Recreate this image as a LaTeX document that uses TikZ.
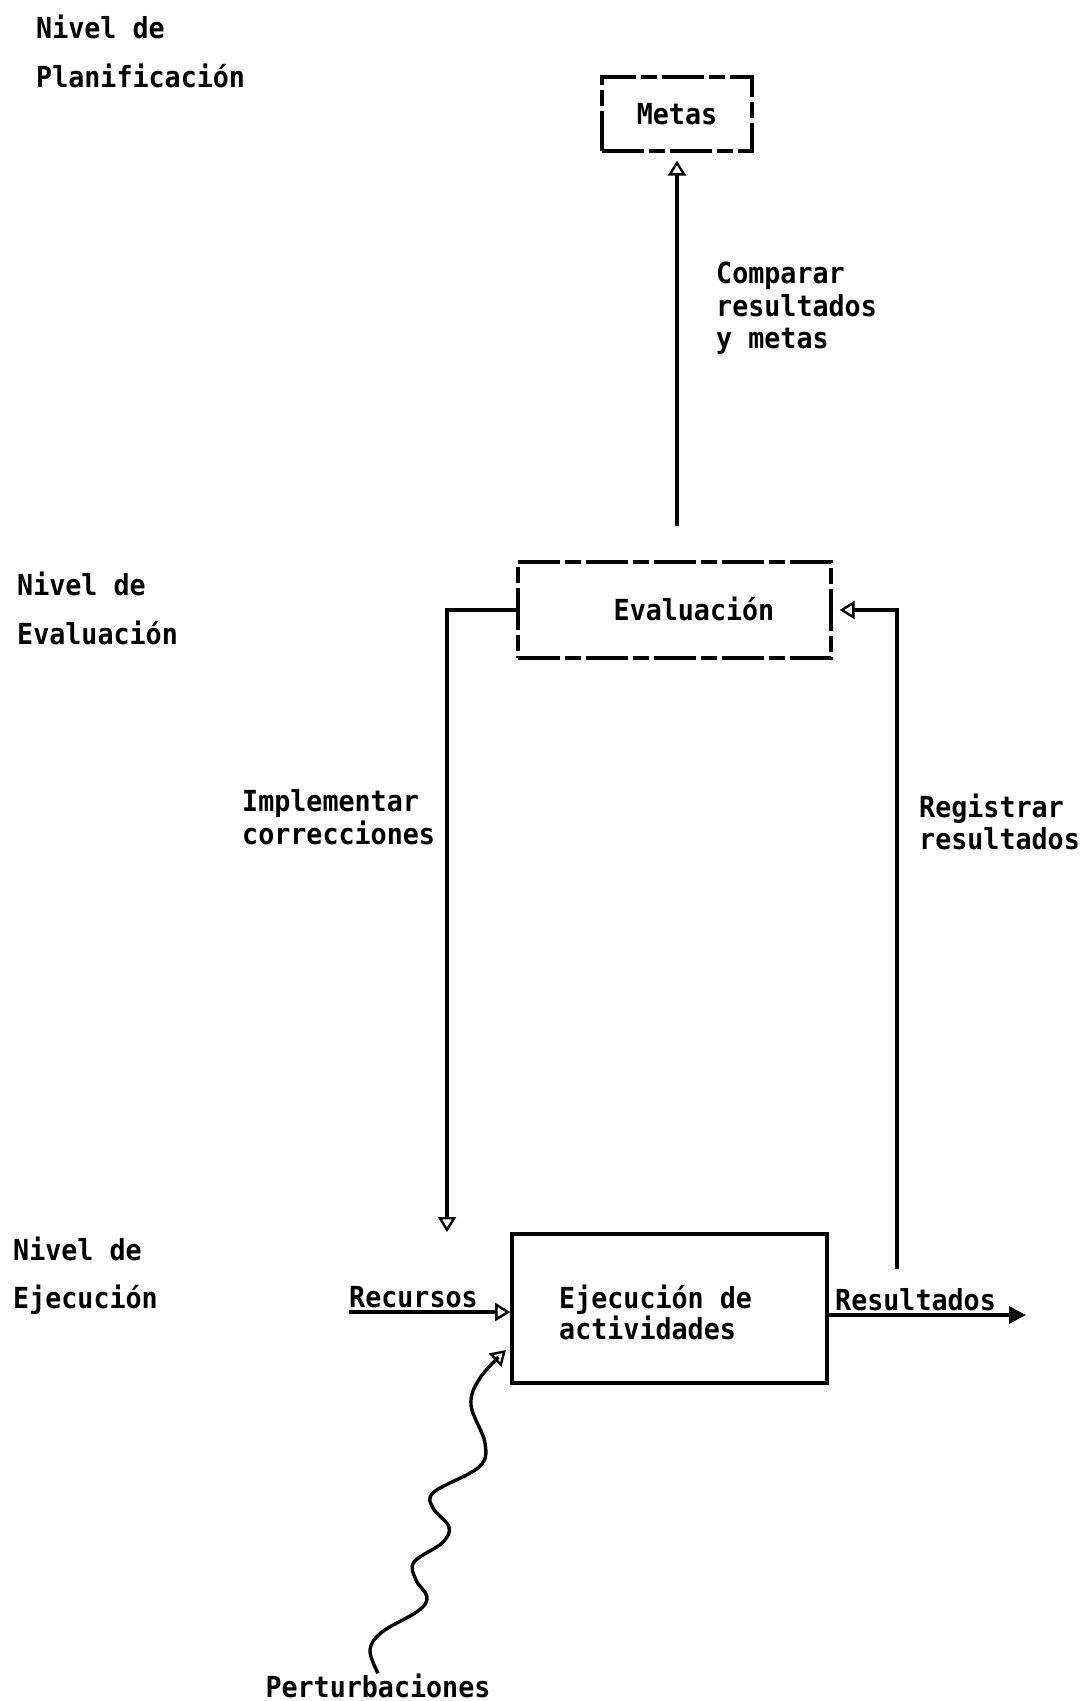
\documentclass[tikz,border=0pt]{standalone}
\usepackage{fontspec}
\newfontfamily\typewr[FakeStretch=0.92]{DejaVu Sans Mono}
\usetikzlibrary{arrows.meta}
\begin{document}
\begin{tikzpicture}[x=1pt,y=-1pt,
  tfont/.style={font=\typewr\bfseries\fontsize{29}{33}\selectfont},
  txt/.style={tfont, inner sep=0pt, anchor=base west},
  ctxt/.style={tfont, inner sep=0pt, anchor=base},
  conn/.style={line width=3.4pt},
  opentip/.style={-{Triangle[open,length=15pt,width=18pt,line width=2.4pt]}},
  solidtip/.style={-{Triangle[length=17pt,width=17pt]}},
  brokenbox/.style={draw, line width=3.2pt, dash pattern=on 42pt off 5pt on 16pt off 5pt, inner sep=0pt},
  solidbox/.style={draw, line width=3.6pt, inner sep=0pt}
]
\useasboundingbox (0,0) rectangle (1080,1701);
\fill[white] (0,0) rectangle (1080,1701);

% level captions on the left
\node[txt] (planA) at (36,38)  {Nivel de};
\node[txt] (planB) at (36,87)  {Planificación};
\node[txt] (evA)   at (17,595) {Nivel de};
\node[txt] (evB)   at (17,644) {Evaluación};
\node[txt] (ejA)   at (13,1260) {Nivel de};
\node[txt] (ejB)   at (13,1308) {Ejecución};

% boxes
\node[brokenbox, tfont, minimum width=150pt, minimum height=74pt] (metas) at (677,114) {Metas};
\node[brokenbox, minimum width=313pt, minimum height=96pt] (eval) at (674.5,610) {};
\node[ctxt] (evaltxt) at (694,620) {Evaluación};
\node[solidbox, minimum width=315pt, minimum height=149pt] (ejec) at (669.5,1308.5) {};
\node[txt] (ejecA) at (559,1308) {Ejecución de};
\node[txt] (ejecB) at (559,1339) {actividades};

% edge captions
\node[txt] (cmpA) at (716,283) {Comparar};
\node[txt] (cmpB) at (716,316) {resultados};
\node[txt] (cmpC) at (716,348) {y metas};
\node[txt] (impA) at (242,811) {Implementar};
\node[txt] (impB) at (242,844) {correcciones};
\node[txt] (regA) at (919,817) {Registrar};
\node[txt] (regB) at (919,849) {resultados};
\node[txt] (rec)  at (349,1307) {Recursos};
\node[txt] (res)  at (835,1310) {Resultados};
\node[ctxt] (pert) at (378,1697) {Perturbaciones};

% free ends of the connectors
\coordinate (cmpbot)  at (677,526);
\coordinate (corrtip) at (447,1232);
\coordinate (regbot)  at (897,1269);
\coordinate (recin)   at (349,1312);
\coordinate (resout)  at (1026,1315);

% feedback loop
\draw[conn, opentip] (cmpbot) -- ([yshift=-8pt]metas.south);
\draw[conn, opentip] (eval.west) -| (corrtip);
\draw[conn, opentip] (regbot) |- ([xshift=7pt]eval.east);

% inputs and output of the execution box
\draw[conn, opentip] (recin) -- (recin -| ejec.west);
\draw[conn, solidtip] (ejec.east |- resout) -- (resout);

% disturbance as a wavy line
\draw[conn, opentip] plot[smooth, tension=0.6] coordinates {
  (pert.north) (370,1650) (382,1632) (418,1611) (427,1597) (416,1580)
  (414,1562) (442,1543) (449,1527) (433,1508) (434,1492) (479,1467)
  (485,1443) (471,1405) (480,1378) (506,1350)};
\end{tikzpicture}
\end{document}
